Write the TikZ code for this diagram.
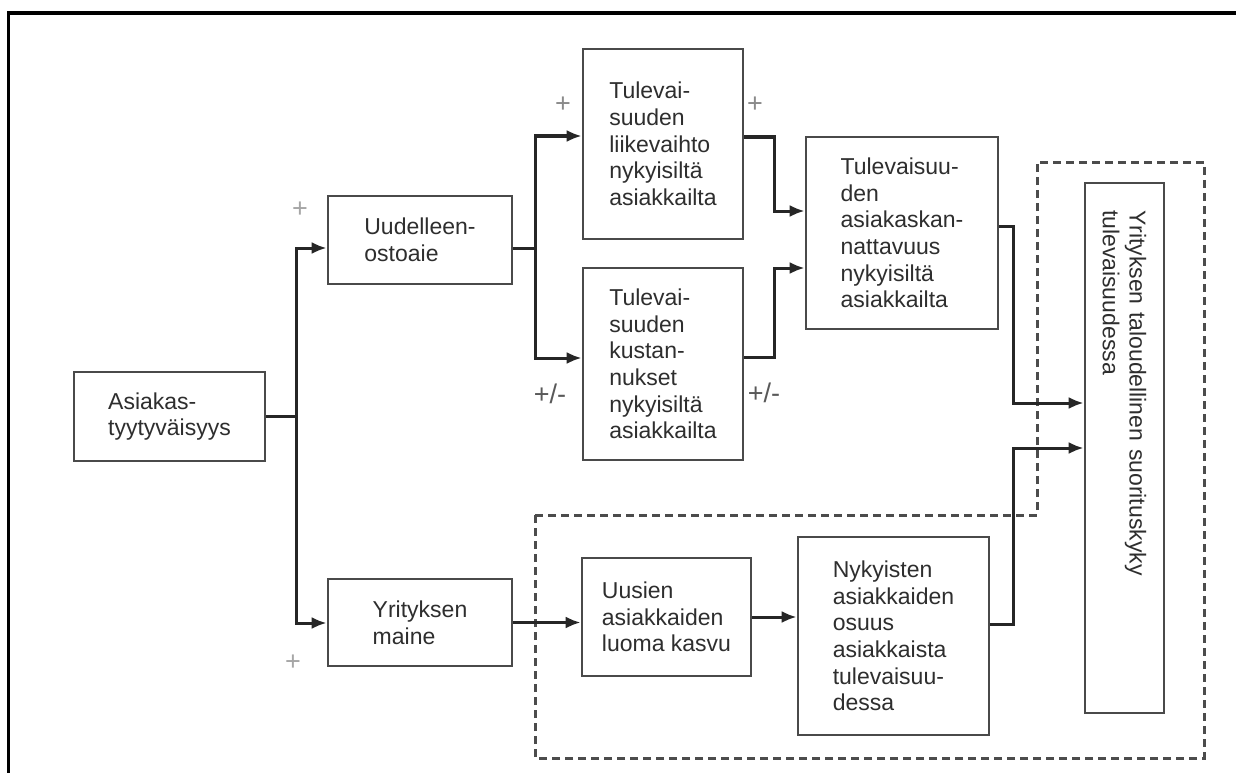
\documentclass[tikz,border=0pt]{standalone}
\usepackage{fontspec}
\setmainfont{Liberation Sans}
\usetikzlibrary{arrows.meta}
\definecolor{boxline}{HTML}{4A4A4A}
\definecolor{txt}{HTML}{2E2E2E}
\definecolor{signs}{HTML}{8A8A8A}
\tikzset{
  box/.style={draw=boxline,line width=2.6pt,rectangle,align=left,text=txt,inner sep=0pt,
    font=\fontsize{23pt}{26.7pt}\selectfont},
  arr/.style={line width=3pt,draw=black!85,-{Latex[length=15pt,width=12pt]}},
  sign/.style={text=signs,inner sep=0pt,font=\fontsize{27pt}{30pt}\selectfont},
  grp/.style={draw=black!70,line width=3pt,dash pattern=on 8pt off 5pt}
}
\begin{document}
\begin{tikzpicture}[x=1pt,y=-1pt]
        \useasboundingbox (0,0) rectangle (1236,773);
        \fill[white] (0,0) rectangle (1236,773);
        %% Frame
        \draw[line width=3.5pt] (8.5,773) -- (8.5,13) -- (1236,13);
        %% Group
        \draw[grp] (535,515) -- (1037,515) -- (1037,162) -- (1204,162) -- (1204,758) -- (535,758) -- cycle;
        %% Boxes
        \node[box,minimum width=191pt,minimum height=89pt] (asia) at (169.5,416.5) {Asiakas-\\tyytyväisyys};
        \node[box,minimum width=184pt,minimum height=88pt] (uud) at (420,240) {Uudelleen-\\ostoaie};
        \node[box,minimum width=184pt,minimum height=87pt] (yrit) at (420,622.5) {Yrityksen\\maine};
        \node[box,minimum width=160pt,minimum height=190pt] (liik) at (663,144) {Tulevai-\\suuden\\liikevaihto\\nykyisiltä\\asiakkailta};
        \node[box,minimum width=160pt,minimum height=192pt] (kust) at (663,364) {Tulevai-\\suuden\\kustan-\\nukset\\nykyisiltä\\asiakkailta};
        \node[box,minimum width=192pt,minimum height=192pt] (kann) at (902,233) {Tulevaisuu-\\den\\asiakaskan-\\nattavuus\\nykyisiltä\\asiakkailta};
        \node[box,minimum width=169pt,minimum height=118pt] (uusi) at (666.5,617) {Uusien\\asiakkaiden\\luoma kasvu};
        \node[box,minimum width=191pt,minimum height=198pt] (nyky) at (893.5,636) {Nykyisten\\asiakkaiden\\osuus\\asiakkaista\\tulevaisuu-\\dessa};
        \node[box,rotate=-90,text width=476pt,inner xsep=27pt,minimum height=79pt] (tall) at (1124.5,448) {Yrityksen taloudellinen suorituskyky\\tulevaisuudessa};
        %% Signs
        \node[sign,text=black!35] (s1) at (300,210) {+};
        \node[sign,text=black!35] (s2) at (293,663) {+};
        \node[sign] (s3) at (563,105) {+};
        \node[sign] (s4) at (755,105) {+};
        \node[sign,text=black!65] (s5) at (550,394) {+/-};
        \node[sign,text=black!65] (s6) at (764,393) {+/-};
        %% Joints
        \coordinate (j1) at (296,248);
        \coordinate (j2) at (296,623);
        \coordinate (j3) at (535,136);
        \coordinate (j4) at (535,358);
        \coordinate (j5) at (774,211);
        \coordinate (j6) at (774,268);
        \coordinate (j7) at (1013,403);
        \coordinate (j8) at (1013,448);
        %% Arrows
        \draw[arr] (asia.east) -| (j1) -- (j1 -| uud.west);
        \draw[arr] (asia.east) -| (j2) -- (j2 -| yrit.west);
        \draw[arr] ([yshift=-8pt]uud.east) -| (j3) -- (j3 -| liik.west);
        \draw[arr] ([yshift=-8pt]uud.east) -| (j4) -- (j4 -| kust.west);
        \draw[arr] ([yshift=7pt]liik.east) -| (j5) -- (j5 -| kann.west);
        \draw[arr] ([yshift=7pt]kust.east) -| (j6) -- (j6 -| kann.west);
        \draw[arr] ([yshift=7pt]kann.east) -| (j7) -- (j7 -| tall.south);
        \draw[arr] ([yshift=12pt]nyky.east) -| (j8) -- (j8 -| tall.south);
        \draw[arr] (yrit.east) -- (yrit.east -| uusi.west);
        \draw[arr] (uusi.east) -- (uusi.east -| nyky.west);
    \end{tikzpicture}
\end{document}
